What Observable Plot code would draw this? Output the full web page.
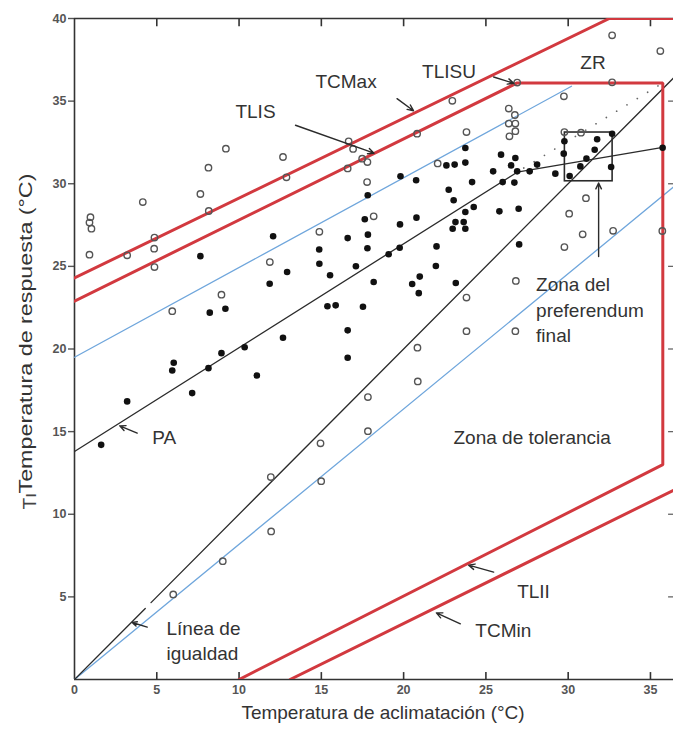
<!DOCTYPE html>
<html><head><meta charset="utf-8">
<script src="https://cdn.jsdelivr.net/npm/d3@7"></script>
<script src="https://cdn.jsdelivr.net/npm/@observablehq/plot@0.6"></script>
<style>
body{margin:0;background:#fff;}
#chart svg{display:block;}
</style></head><body><div id="chart"></div>
<script>
// ---------- tick values ----------
const xTicks = [0, 5, 10, 15, 20, 25, 30, 35];
const yTicks = [5, 10, 15, 20, 25, 30, 35, 40];

// ---------- open circles (acclimation T, response T) ----------
const openX = [0.91,0.97,0.91,1.03,3.20,4.15,4.86,4.84,4.86,5.94,7.65,8.14,8.16,8.93,9.20,12.67,12.88,11.87,11.93,11.95,9.01,6.00,14.95,14.99,17.83,17.83,14.88,16.66,16.93,17.48,17.80,16.60,17.78,18.18,20.82,20.84,20.86,22.07,22.96,23.82,23.82,23.82,26.90,26.39,26.76,26.39,26.79,26.79,26.43,26.82,26.79,29.74,29.77,30.78,29.77,30.06,31.08,30.88,32.73,32.67,32.67,35.60,35.72];
const openY = [25.71,27.98,27.65,27.28,25.67,28.89,26.74,26.07,24.96,22.29,29.38,30.97,28.35,23.29,32.12,31.62,30.39,25.26,12.25,8.96,7.16,5.15,14.29,12.00,17.09,15.03,27.09,32.57,32.11,31.52,31.31,30.93,30.10,28.03,33.03,20.08,18.04,31.23,35.02,33.13,23.11,21.08,36.12,34.55,34.16,33.64,33.64,33.18,32.87,24.12,21.08,35.29,33.13,33.09,26.17,28.19,29.13,26.94,27.15,36.14,38.98,38.03,27.14];

// ---------- filled circles ----------
const filledX = [1.62,3.20,7.15,5.94,6.03,8.14,8.93,10.34,11.08,7.65,8.22,9.17,11.86,12.07,12.92,12.67,14.87,14.88,15.53,15.37,15.87,16.60,16.60,16.60,17.10,17.53,17.82,17.64,17.83,17.80,18.18,19.09,19.76,19.81,20.78,20.76,20.52,20.98,20.92,22.00,21.96,23.17,22.60,23.10,23.75,23.75,22.74,23.04,24.16,24.26,23.75,23.15,23.65,22.98,23.75,25.92,26.79,25.44,26.53,26.90,27.66,28.11,29.22,26.02,26.73,25.82,26.99,27.02,29.77,29.73,31.76,32.67,31.61,31.11,30.74,30.09,32.61,35.74,19.78];
const filledY = [14.20,16.83,17.33,18.70,19.17,18.84,19.75,20.11,18.40,25.62,22.20,22.44,23.95,26.82,24.66,20.68,26.02,25.16,24.46,22.59,22.64,26.71,21.13,19.47,25.01,22.56,29.30,27.85,26.92,26.10,24.05,25.73,26.13,30.45,27.95,30.21,23.93,24.38,23.38,26.21,25.02,23.99,31.11,31.16,31.28,32.16,29.64,29.00,30.10,28.59,28.29,27.68,27.68,27.28,27.28,31.76,31.56,30.75,31.11,30.75,30.75,31.16,30.61,30.10,30.07,28.33,28.49,26.33,32.57,31.82,32.69,33.03,32.06,31.52,31.05,30.47,31.01,32.18,27.54];

// ---------- reference lines ----------
const tcmaxX = [0, 32.5, 36.4];            const tcmaxY = [24.3, 40, 40];
const tolX = [0, 26.9, 35.75, 35.75, 10];  const tolY = [22.9, 36.1, 36.1, 13.0, 0];   // TLIS + TLISU + TLII
const tcminX = [13.1, 36.4];               const tcminY = [0, 11.45];
const blueUpX = [0, 30.2];                 const blueUpY = [19.5, 35.9];
const blueLoX = [0, 36.4];                 const blueLoY = [0, 29.8];
const eqX = [0, 4.3, 4.65, 36.4];          const eqY = [0, 4.3, 4.65, 36.4];  const eqSeg = [0, 0, 1, 1];
const paX = [0, 26.9, 35.75];              const paY = [13.8, 30.7, 32.2];
const dotX = [27.3, 35.75];                const dotY = [30.95, 36.1];
const boxX = [29.8, 32.7];                 const boxY = [30.15, 33.1];

// ---------- labels ----------
const annText = ["TCMax","TLISU","ZR","TLIS","PA","Zona del","preferendum","final","Zona de tolerancia","Línea de","igualdad","TLII","TCMin"];
const annX = [14.64,21.12,30.74,9.78,4.72,28.05,28.05,28.05,23.03,5.59,5.59,26.9,24.36];
const annY = [36.14,36.74,37.29,34.32,14.59,23.85,22.29,20.82,14.59,3.07,1.56,5.33,2.97];

const arrX1 = [19.6, 25.47, 13.43, 3.81, 4.42, 25.47, 23.45, 31.85];
const arrY1 = [35.15, 36.46, 33.54, 14.91, 3.17, 6.5, 3.37, 25.6];
const arrX2 = [20.6, 26.69, 18.2, 2.75, 3.5, 23.95, 21.99, 31.85];
const arrY2 = [34.42, 36.08, 31.85, 15.35, 3.45, 6.92, 4.03, 30.05];

const xTitle = "Temperatura de aclimatación (°C)";
const yTitle = "Temperatura de respuesta (°C)";

// ---------- build ----------
const pts = (xs, ys) => xs.map((x, i) => ({x, y: ys[i]}));
const openPts = pts(openX, openY);
const filledPts = pts(filledX, filledY);
const eqPts = eqX.map((x, i) => ({x, y: eqY[i], s: eqSeg[i]}));
const ann = annText.map((t, i) => ({t, x: annX[i], y: annY[i]}));
const arrows = arrX1.map((x1, i) => ({x1, y1: arrY1[i], x2: arrX2[i], y2: arrY2[i]}));

const RED = "#d2393f", BLUE = "#6fa6dc", INK = "#2b2b2b";
const FONT = "'Liberation Sans', Arial, Helvetica, sans-serif";

const chart = Plot.plot({
  width: 673, height: 731,
  marginLeft: 74, marginRight: 0, marginTop: 18, marginBottom: 52,
  x: {domain: [0, 36.4]},
  y: {domain: [0, 40]},
  style: {fontFamily: FONT, background: "#fff", overflow: "hidden"},
  marks: [
    Plot.axisX({ticks: xTicks, tickSize: 0, tickPadding: 6, label: null, fontSize: 12.5, fontWeight: "bold", color: "#555"}),
    Plot.axisY({ticks: yTicks, tickSize: 6, tickPadding: 2, label: null, fontSize: 12.5, fontWeight: "bold", color: "#555", strokeWidth: 1.4}),
    // frame
    Plot.ruleX([0], {y1: 0, y2: 40, stroke: "#333", strokeWidth: 1.6}),
    Plot.ruleY([0], {x1: 0, x2: 36.4, stroke: "#333", strokeWidth: 1.6}),
    Plot.ruleY([40], {x1: 0, x2: 36.4, stroke: "#333", strokeWidth: 1.6}),
    Plot.ruleX(xTicks.filter(v => v > 0), {y1: 0, y2: 0.42, stroke: "#333", strokeWidth: 1.6}),
    Plot.ruleX(xTicks.filter(v => v > 0), {y1: 40, y2: 39.5, stroke: "#333", strokeWidth: 1.6}),
    Plot.ruleY(yTicks.filter(v => v < 40), {x1: 36.1, x2: 36.4, stroke: "#666", strokeWidth: 1.3}),
    // thin lines
    Plot.line(pts(blueUpX, blueUpY), {x: "x", y: "y", stroke: BLUE, strokeWidth: 1.3, clip: true}),
    Plot.line(pts(blueLoX, blueLoY), {x: "x", y: "y", stroke: BLUE, strokeWidth: 1.3, clip: true}),
    Plot.line(eqPts, {x: "x", y: "y", z: "s", stroke: INK, strokeWidth: 1.3, clip: true}),
    Plot.line(pts(paX, paY), {x: "x", y: "y", stroke: INK, strokeWidth: 1.3, clip: true}),
    Plot.line(pts(dotX, dotY), {x: "x", y: "y", stroke: "#666", strokeWidth: 1.7, strokeDasharray: "0.1,12", strokeLinecap: "round", clip: true}),
    Plot.rect([{x1: boxX[0], x2: boxX[1], y1: boxY[0], y2: boxY[1]}], {x1: "x1", x2: "x2", y1: "y1", y2: "y2", fill: "none", stroke: INK, strokeWidth: 1.6}),
    // red lines
    Plot.line(pts(tcmaxX, tcmaxY), {x: "x", y: "y", stroke: RED, strokeWidth: 3, clip: true}),
    Plot.line(pts(tolX, tolY), {x: "x", y: "y", stroke: RED, strokeWidth: 3, strokeLinejoin: "miter", clip: true}),
    Plot.line(pts(tcminX, tcminY), {x: "x", y: "y", stroke: RED, strokeWidth: 3, clip: true}),
    // points
    Plot.dot(openPts, {x: "x", y: "y", r: 3.2, stroke: "#555", strokeWidth: 1.4, fill: "none", clip: true}),
    Plot.dot(filledPts, {x: "x", y: "y", r: 3.3, fill: "#111", stroke: "none", clip: true}),
    // arrows
    Plot.arrow(arrows, {x1: "x1", y1: "y1", x2: "x2", y2: "y2", stroke: INK, strokeWidth: 1.4, headLength: 7, headAngle: 50}),
    // annotation text
    Plot.text(ann, {x: "x", y: "y", text: "t", textAnchor: "start", fontSize: 19, fill: "#333"}),
    // axis titles
    Plot.text([xTitle], {text: d => d, frameAnchor: "bottom", dx: 9, dy: 39, fontSize: 19, fill: "#333"}),
    Plot.text([yTitle], {text: d => d, frameAnchor: "left", rotate: -90, textAnchor: "start", dx: -49, dy: 144.5, fontSize: 19, fill: "#333"}),
    Plot.text(["Tı"], {text: d => d, frameAnchor: "left", rotate: -90, textAnchor: "start", dx: -45, dy: 160.5, fontSize: 19, fill: "#444"})
  ]
});

document.getElementById("chart").appendChild(chart);
chart.querySelectorAll("text").forEach(t => {
  if (t.textContent === yTitle) {
    const tr = t.getAttribute("transform") || "";
    const h0 = t.getBoundingClientRect().height;
    if (h0 > 0) {
      t.setAttribute("transform", tr + " scale(" + (320 / h0) + ",1)");
    }
  }
});
</script>
</body></html>
